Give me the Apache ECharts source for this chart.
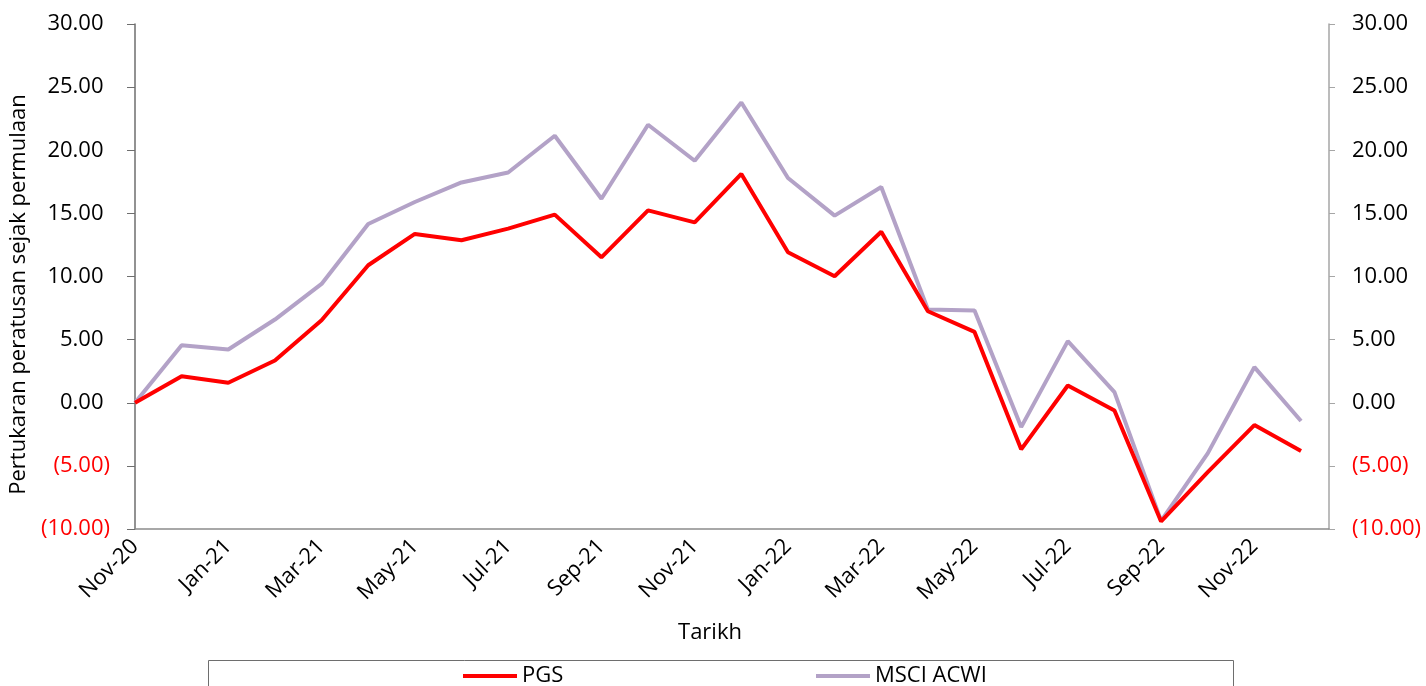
<!DOCTYPE html>
<html>
<head>
<meta charset="utf-8">
<script src="https://cdn.jsdelivr.net/npm/echarts@6/dist/echarts.min.js"></script>
<style>
html,body{margin:0;padding:0;background:#fff;}
#c{width:1426px;height:686px;}
</style>
</head>
<body>
<div id="c"></div>
<script>
const months = ['Nov-20','Dec-20','Jan-21','Feb-21','Mar-21','Apr-21','May-21','Jun-21','Jul-21','Aug-21','Sep-21','Oct-21','Nov-21','Dec-21','Jan-22','Feb-22','Mar-22','Apr-22','May-22','Jun-22','Jul-22','Aug-22','Sep-22','Oct-22','Nov-22','Dec-22'];
const pgs  = [0, 2.10, 1.58, 3.35, 6.54, 10.89, 13.37, 12.87, 13.79, 14.90, 11.52, 15.24, 14.29, 18.12, 11.92, 10.02, 13.55, 7.25, 5.61, -3.69, 1.37, -0.61, -9.40, -5.50, -1.77, -3.83];
const msci = [0, 4.56, 4.22, 6.59, 9.41, 14.16, 15.90, 17.45, 18.24, 21.15, 16.16, 22.02, 19.17, 23.78, 17.80, 14.82, 17.09, 7.38, 7.30, -1.93, 4.88, 0.84, -9.36, -4.01, 2.82, -1.45];
const yTicks = {min: -10, max: 30, step: 5};

const FONT = '"Open Sans", sans-serif';
const chart = echarts.init(document.getElementById('c'));

function yFmt(v){
  if (v < 0) return '{r|(' + Math.abs(v).toFixed(2) + ')}';
  return '{n|' + v.toFixed(2) + '}{s|)}';
}
const yRich = {
  n: {color: '#000', fontSize: 22, fontFamily: FONT},
  r: {color: '#ff0000', fontSize: 22, fontFamily: FONT},
  s: {color: 'rgba(0,0,0,0)', fontSize: 22, fontFamily: FONT}
};

chart.setOption({
  animation: false,
  backgroundColor: '#fff',
  grid: {left: 135, right: 97, top: 24, bottom: 157, containLabel: false},
  xAxis: {
    type: 'value', min: 0, max: 25.6, interval: 2,
    name: 'Tarikh', nameLocation: 'middle', nameGap: 93,
    nameTextStyle: {color: '#000', fontSize: 22, fontFamily: FONT, padding: [0, 44, 0, 0]},
    axisLine: {show: true, onZero: false, lineStyle: {color: '#8c8c8c', width: 1.5}},
    axisTick: {show: false},
    splitLine: {show: false},
    axisLabel: {
      rotate: 45, margin: 14, color: '#000', fontSize: 22, fontFamily: FONT,
      showMaxLabel: false,
      formatter: function(v){ return Number.isInteger(v) && months[v] ? months[v] : ''; }
    }
  },
  yAxis: [
    {
      type: 'value', min: yTicks.min, max: yTicks.max, interval: yTicks.step, position: 'left',
      name: 'Pertukaran peratusan sejak permulaan', nameLocation: 'middle', nameGap: 102,
      nameTextStyle: {color: '#000', fontSize: 22, fontFamily: FONT, padding: [0, 36, 0, 0]},
      axisLine: {show: true, onZero: false, lineStyle: {color: '#6e6e6e', width: 1.5}},
      axisTick: {show: true, inside: false, length: 8, lineStyle: {color: '#6e6e6e'}},
      splitLine: {show: false},
      axisLabel: {margin: 25, formatter: yFmt, rich: yRich}
    },
    {
      type: 'value', min: yTicks.min, max: yTicks.max, interval: yTicks.step, position: 'right',
      axisLine: {show: true, onZero: false, lineStyle: {color: '#a6a6a6', width: 1.5}},
      axisTick: {show: true, inside: false, length: 6, lineStyle: {color: '#a6a6a6'}},
      splitLine: {show: false},
      axisLabel: {margin: 23, formatter: yFmt, rich: yRich}
    }
  ],
  legend: [
    {
      data: ['PGS'], left: 463, top: 665, padding: 0, icon: 'rect',
      itemWidth: 54, itemHeight: 4, itemGap: 0,
      textStyle: {color: '#000', fontSize: 22, fontFamily: FONT}
    },
    {
      data: ['MSCI ACWI'], left: 816, top: 665, padding: 0, icon: 'rect',
      itemWidth: 54, itemHeight: 4, itemGap: 0,
      textStyle: {color: '#000', fontSize: 22, fontFamily: FONT}
    }
  ],
  graphic: [
    {type: 'rect', shape: {x: 208.5, y: 660.5, width: 1025, height: 60},
     style: {fill: 'none', stroke: '#6e6e6e', lineWidth: 1}, silent: true}
  ],
  series: [
    {
      name: 'PGS', type: 'line', yAxisIndex: 0,
      data: pgs.map((v, i) => [i, v]),
      showSymbol: false, symbol: 'none',
      lineStyle: {color: '#ff0000', width: 4}, itemStyle: {color: '#ff0000'}, z: 3
    },
    {
      name: 'MSCI ACWI', type: 'line', yAxisIndex: 0,
      data: msci.map((v, i) => [i, v]),
      showSymbol: false, symbol: 'none',
      lineStyle: {color: '#b3a2c7', width: 4}, itemStyle: {color: '#b3a2c7'}, z: 2
    }
  ]
});
</script>
</body>
</html>
